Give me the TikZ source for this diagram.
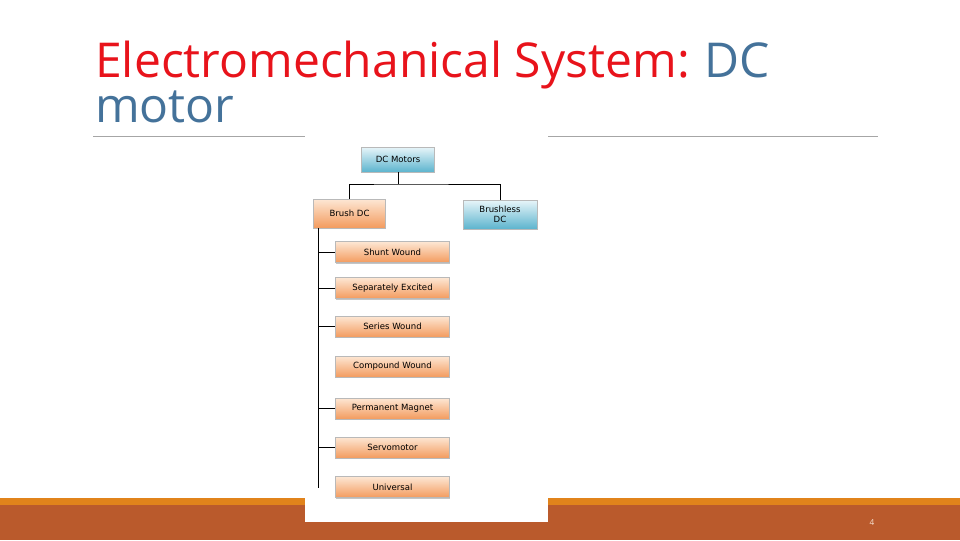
\documentclass[tikz,border=0pt]{standalone}
\usepackage{fontspec}
\setmainfont{Open Sans}
\newfontfamily\boxfont{DejaVu Sans}
\usetikzlibrary{shadows}
\definecolor{titlered}{HTML}{E8131B}
\definecolor{titleblue}{HTML}{44729A}
\definecolor{ruleline}{HTML}{A6A6A6}
\definecolor{bandorange}{HTML}{E1831B}
\definecolor{bandrust}{HTML}{BA5A2C}
\definecolor{pagenum}{HTML}{F6E2D2}
\definecolor{boxorangetop}{HTML}{FDE7D4}
\definecolor{boxorange}{HTML}{F39B5E}
\definecolor{boxbluetop}{HTML}{E8F5F9}
\definecolor{boxblue}{HTML}{5CB4CE}
\tikzset{
  mbox/.style={draw=gray!55, line width=0.3pt, inner sep=0pt, align=center,
               font=\boxfont\fontsize{7.3}{9}\selectfont,
               drop shadow={shadow xshift=0.8pt, shadow yshift=-1pt, opacity=0.45}},
  brushbox/.style={mbox, top color=boxorangetop, bottom color=boxorange},
  bluebox/.style={mbox, top color=boxbluetop, bottom color=boxblue},
  kindbox/.style={brushbox, minimum width=34.2mm, minimum height=6.3mm},
  tree/.style={line width=0.8pt, black},
}

\begin{document}
\begin{tikzpicture}[x=0.3mm, y=-0.3mm]
    \useasboundingbox (0,0) rectangle (960,540);
    % footer bands
    \fill[bandorange] (0,498) rectangle (960,505);
    \fill[bandrust] (0,505) rectangle (960,540);
    % title
    \node[anchor=base west, inner sep=0pt, font=\fontsize{41}{49}\selectfont] (title1) at (95,77)
      {\textcolor{titlered}{Electromechanical System:}\hspace{-2pt} \textcolor{titleblue}{DC}};
    \node[anchor=base west, inner sep=0pt, font=\fontsize{41}{49}\selectfont, text=titleblue] (title2) at (95,122) {motor};
    \draw[ruleline, line width=0.7pt] (93,136) -- (878,136);
    % picture area
    \fill[white] (305,130) rectangle (548,522);
    \node[bluebox, minimum width=21.9mm, minimum height=7.5mm] (dcmotors) at (398,159.5) {DC Motors};
    \node[brushbox, minimum width=21.6mm, minimum height=8.7mm] (brush) at (349.5,213.5) {Brush DC};
    \node[bluebox, minimum width=22.2mm, minimum height=8.7mm] (brushless) at (500,214.5) {Brushless\\DC};
    \node[kindbox] (shunt) at (392.5,252) {Shunt Wound};
    \node[kindbox] (sepex) at (392.5,288) {Separately Excited};
    \node[kindbox] (series) at (392.5,326.5) {Series Wound};
    \node[kindbox] (compound) at (392.5,366.5) {Compound Wound};
    \node[kindbox] (perm) at (392.5,408.5) {Permanent Magnet};
    \node[kindbox] (servo) at (392.5,447.5) {Servomotor};
    \node[kindbox] (universal) at (392.5,487) {Universal};
    % connectors
    \coordinate (split) at (398,184);
    \coordinate (spineend) at (318,488);
    \draw[tree] (dcmotors.south) -- (split);
    \draw[tree] (brush.north) |- (split) -| (brushless.north);
    \draw[tree] (spineend |- brush.south) -- (spineend);
    \foreach \k in {shunt,sepex,series,perm,servo}
      \draw[tree] (spineend |- \k.west) -- (\k.west);
    % page number
    \node[text=pagenum, font=\fontsize{7}{8}\selectfont] (pageno) at (872,523) {4};
\end{tikzpicture}
\end{document}
